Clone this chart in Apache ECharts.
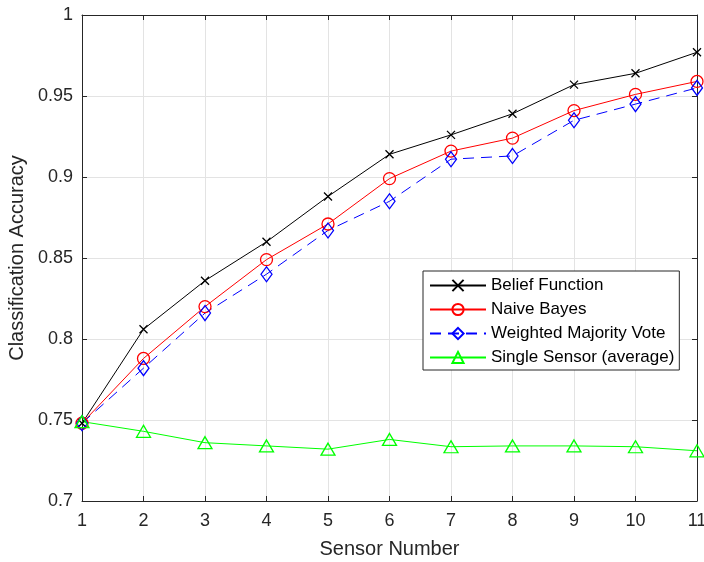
<!DOCTYPE html>
<html>
<head>
<meta charset="utf-8">
<script src="https://cdn.jsdelivr.net/npm/echarts@6/dist/echarts.min.js"></script>
<style>
html,body{margin:0;padding:0;background:#fff;}
#chart{width:704px;height:562px;}
</style>
</head>
<body>
<div id="chart"></div>
<script>
const sensors = [1, 2, 3, 4, 5, 6, 7, 8, 9, 10, 11];
const beliefFunction = [0.748, 0.806, 0.836, 0.860, 0.888, 0.914, 0.926, 0.939, 0.957, 0.964, 0.977];
const naiveBayes = [0.748, 0.788, 0.820, 0.849, 0.871, 0.899, 0.916, 0.924, 0.941, 0.951, 0.959];
const weightedMajority = [0.748, 0.782, 0.816, 0.840, 0.867, 0.885, 0.911, 0.913, 0.935, 0.945, 0.955];
const singleSensor = [0.749, 0.743, 0.736, 0.734, 0.732, 0.738, 0.7335, 0.734, 0.734, 0.7335, 0.731];
const seriesNames = ['Belief Function', 'Naive Bayes', 'Weighted Majority Vote', 'Single Sensor (average)'];

const FONT = '"Liberation Sans", Arial, Helvetica, sans-serif';
const AX = '#262626';
const GRIDC = '#e3e3e3';

function pairs(vals) { return sensors.map((s, i) => [s, vals[i]]); }

const chart = echarts.init(document.getElementById('chart'), null, {renderer: 'canvas'});

const baseAxis = {
  axisLine: {show: true, lineStyle: {color: AX, width: 1}},
  axisTick: {show: true, inside: true, length: 5, lineStyle: {color: AX}},
};

function mkSeries(name, vals, color, symbol, size, dashed) {
  return {
    name: name,
    type: 'line',
    data: pairs(vals),
    symbol: symbol,
    symbolSize: size,
    showAllSymbol: true,
    clip: false,
    lineStyle: {color: color, width: 1, type: dashed ? [11, 7] : 'solid'},
    itemStyle: {color: 'rgba(255,255,255,0)', borderColor: color, borderWidth: 1.3},
    emphasis: {disabled: true},
    animation: false
  };
}

const option = {
  animation: false,
  backgroundColor: '#fff',
  textStyle: {fontFamily: FONT},
  grid: {left: 82, right: 7, top: 15, bottom: 61, containLabel: false, outerBoundsMode: 'none'},
  legend: {
    show: true,
    orient: 'vertical',
    left: 423,
    top: 271,
    backgroundColor: '#fff',
    borderColor: AX,
    borderWidth: 1,
    borderRadius: 0,
    padding: [6, 5, 4, 6],
    itemWidth: 56,
    itemHeight: 14,
    itemGap: 7,
    textStyle: {fontSize: 17, lineHeight: 17, color: '#000', fontFamily: FONT},
    data: seriesNames
  },
  xAxis: [
    Object.assign({}, baseAxis, {
      type: 'value', min: 1, max: 11, interval: 1, position: 'bottom',
      name: 'Sensor Number', nameLocation: 'middle', nameGap: 38,
      nameTextStyle: {fontSize: 20, color: AX, fontFamily: FONT},
      axisLabel: {fontSize: 18, color: AX, margin: 11, fontFamily: FONT},
      splitLine: {show: true, lineStyle: {color: GRIDC, width: 1}}
    }),
    Object.assign({}, baseAxis, {
      type: 'value', min: 1, max: 11, interval: 1, position: 'top',
      axisLabel: {show: false}, splitLine: {show: false}
    })
  ],
  yAxis: [
    Object.assign({}, baseAxis, {
      type: 'value', min: 0.7, max: 1, interval: 0.05, position: 'left',
      name: 'Classification Accuracy', nameLocation: 'middle', nameGap: 48,
      nameTextStyle: {fontSize: 20, color: AX, fontFamily: FONT},
      axisLabel: {fontSize: 18, color: AX, margin: 9, fontFamily: FONT,
        formatter: v => String(parseFloat(v.toFixed(2)))},
      splitLine: {show: true, lineStyle: {color: GRIDC, width: 1}}
    }),
    Object.assign({}, baseAxis, {
      type: 'value', min: 0.7, max: 1, interval: 0.05, position: 'right',
      axisLabel: {show: false}, splitLine: {show: false}
    })
  ],
  series: [
    mkSeries(seriesNames[0], beliefFunction, '#000000', 'path://M0,0L10,10M10,0L0,10', 8, false),
    mkSeries(seriesNames[1], naiveBayes, '#ff0000', 'circle', 12, false),
    mkSeries(seriesNames[2], weightedMajority, '#0000ff', 'diamond', [11, 15], true),
    mkSeries(seriesNames[3], singleSensor, '#00ff00', 'triangle', [14, 12], false)
  ]
};
chart.setOption(option);
</script>
</body>
</html>
